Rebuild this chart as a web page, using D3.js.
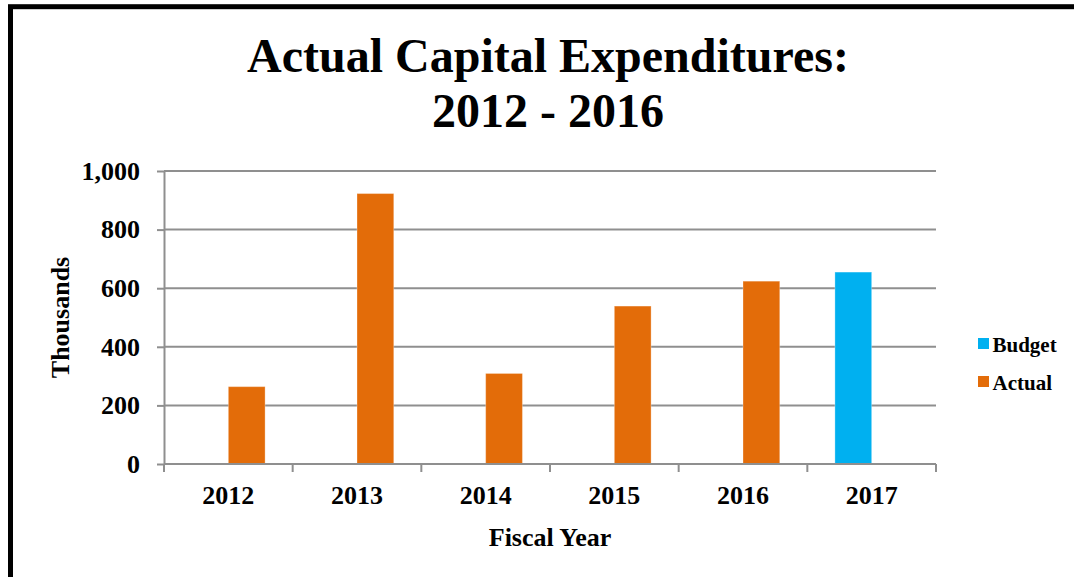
<!DOCTYPE html>
<html>
<head>
<meta charset="utf-8">
<title>Actual Capital Expenditures: 2012 - 2016</title>
<script src="https://cdn.jsdelivr.net/npm/d3@7"></script>
<style>
  html, body { margin: 0; padding: 0; background: #ffffff; }
  svg { display: block; }
  text { font-family: "Liberation Serif", "Times New Roman", serif; font-weight: bold; fill: #000; }
</style>
</head>
<body>
<svg id="chart" width="1074" height="577"></svg>
<script>
// Fiscal years and spending in thousands
const years = ["2012", "2013", "2014", "2015", "2016", "2017"];
const seriesNames = ["Budget", "Actual"];
const budgetValues = [null, null, null, null, null, 655];
const actualValues = [264, 923, 309, 539, 624, null];
const yTicks = [0, 200, 400, 600, 800, 1000];
const titleLines = ["Actual Capital Expenditures:", "2012 - 2016"];

const colors = { Budget: "#00B0F0", Actual: "#E36C09" };

const svg = d3.select("#chart");

// Outer frame
svg.append("rect")
  .attr("x", 10.5).attr("y", 6.7)
  .attr("width", 1100).attr("height", 620)
  .attr("fill", "none")
  .attr("stroke", "#000")
  .attr("stroke-width", 5);

const plot = { left: 164, right: 936, top: 171, bottom: 464 };

const x = d3.scaleBand().domain(years).range([plot.left, plot.right]).padding(0);
const xSub = d3.scaleBand().domain(seriesNames)
  .range([0, x.bandwidth()])
  .paddingInner(0).paddingOuter(0.75);
const y = d3.scaleLinear().domain([0, 1000]).range([plot.bottom, plot.top]);

// Gridlines
svg.append("g")
  .selectAll("line")
  .data(yTicks.filter(d => d > 0))
  .join("line")
  .attr("x1", plot.left).attr("x2", plot.right)
  .attr("y1", d => y(d)).attr("y2", d => y(d))
  .attr("stroke", "#8f8f8f")
  .attr("stroke-width", 2);

// Bars
const rows = years.map((yr, i) => ({ year: yr, Budget: budgetValues[i], Actual: actualValues[i] }));
const barG = svg.append("g");
seriesNames.forEach(name => {
  barG.append("g")
    .selectAll("rect")
    .data(rows.filter(r => r[name] != null))
    .join("rect")
    .attr("x", d => x(d.year) + xSub(name))
    .attr("width", xSub.bandwidth())
    .attr("y", d => y(d[name]))
    .attr("height", d => y(0) - y(d[name]))
    .attr("fill", colors[name])
    .attr("stroke", "rgba(255,255,255,0.3)")
    .attr("stroke-width", 1);
});

// Y axis
const yAxis = d3.axisLeft(y)
  .tickValues(yTicks)
  .tickFormat(d3.format(","))
  .tickSizeInner(7)
  .tickSizeOuter(0)
  .tickPadding(17);
const yg = svg.append("g")
  .attr("transform", `translate(${plot.left},0)`)
  .call(yAxis);
yg.select(".domain").attr("stroke", "#8f8f8f").attr("stroke-width", 2);
yg.selectAll(".tick line").attr("stroke", "#8f8f8f").attr("stroke-width", 2);
yg.selectAll(".tick text")
  .style("font-family", '"Liberation Serif", "Times New Roman", serif')
  .style("font-weight", "bold")
  .style("font-size", "26px")
  .attr("fill", "#000");

// X axis: baseline with tick marks on the category boundaries
const xg = svg.append("g");
xg.append("line")
  .attr("x1", plot.left).attr("x2", plot.right)
  .attr("y1", y(0)).attr("y2", y(0))
  .attr("stroke", "#8f8f8f").attr("stroke-width", 2);
const edges = years.map(d => x(d)).concat([x(years[years.length - 1]) + x.bandwidth()]);
xg.selectAll("line.edge")
  .data(edges)
  .join("line")
  .attr("class", "edge")
  .attr("x1", d => d).attr("x2", d => d)
  .attr("y1", y(0)).attr("y2", y(0) + 8)
  .attr("stroke", "#8f8f8f").attr("stroke-width", 2);
xg.selectAll("text")
  .data(years)
  .join("text")
  .attr("x", d => x(d) + x.bandwidth() / 2)
  .attr("y", 504)
  .attr("text-anchor", "middle")
  .style("font-size", "26px")
  .text(d => d);

// Axis titles
svg.append("text")
  .attr("transform", "translate(68.5,317.5) rotate(-90)")
  .attr("text-anchor", "middle")
  .style("font-size", "26px")
  .text("Thousands");

svg.append("text")
  .attr("x", (plot.left + plot.right) / 2)
  .attr("y", 546)
  .attr("text-anchor", "middle")
  .style("font-size", "26px")
  .text("Fiscal Year");

// Title
svg.append("g")
  .selectAll("text")
  .data(titleLines)
  .join("text")
  .attr("x", 548)
  .attr("y", (d, i) => 72 + i * 55)
  .attr("text-anchor", "middle")
  .style("font-size", "48px")
  .text(d => d);

// Legend
const legend = svg.append("g");
seriesNames.forEach((name, i) => {
  const ly = 351.5 + i * 38;
  legend.append("rect")
    .attr("x", 978).attr("y", ly - 13.5)
    .attr("width", 11).attr("height", 11)
    .attr("fill", colors[name]);
  legend.append("text")
    .attr("x", 992.5).attr("y", ly)
    .style("font-size", "21px")
    .text(name);
});
</script>
</body>
</html>
